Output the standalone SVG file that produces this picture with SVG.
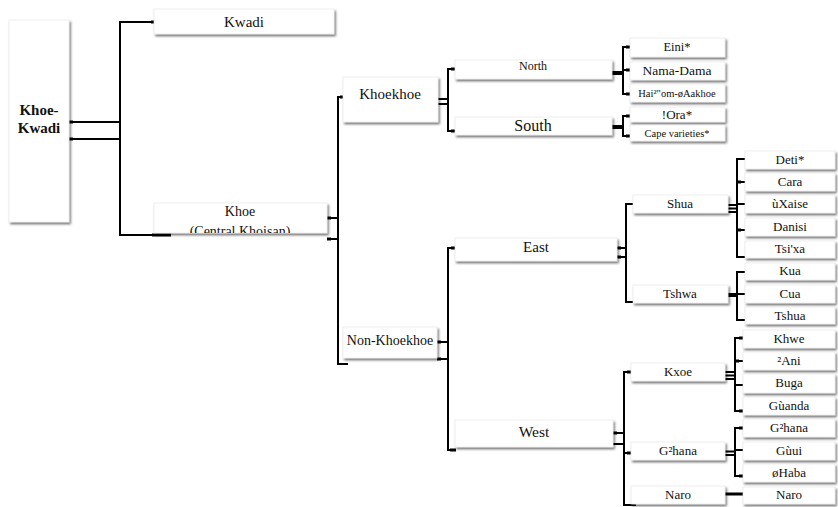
<svg xmlns="http://www.w3.org/2000/svg" width="838" height="507" viewBox="0 0 838 507">
<defs>
<filter id="sh" x="-10%" y="-20%" width="130%" height="160%">
<feDropShadow dx="1.5" dy="2" stdDeviation="1" flood-color="#000" flood-opacity="0.55"/>
</filter>
<clipPath id="khoeClip"><rect x="154" y="203" width="173" height="30"/></clipPath>
<style>
.box{fill:#fff;stroke:#e4e4e4;stroke-width:0.6;filter:url(#sh)}
.t{font-family:"Liberation Serif","DejaVu Serif",serif;fill:#111;text-anchor:middle}
.c line,.c polyline{stroke:#000;stroke-width:2;fill:none}
.c rect{fill:#000}
</style>
</defs>
<rect width="838" height="507" fill="#fff"/>

<g id="connectors" class="c">
<!-- Khoe-Kwadi -->
<line x1="69" y1="122" x2="120" y2="122"/>
<line x1="69" y1="139" x2="120" y2="139"/>
<rect x="69" y="120.5" width="4" height="3"/>
<rect x="69" y="137.5" width="4" height="3"/>
<polyline points="155,22 120,22 120,235 171,235"/>
<rect x="151" y="20.5" width="4" height="3"/>
<rect x="152" y="233.5" width="19" height="3"/>
<!-- Khoe -->
<line x1="327" y1="218" x2="338" y2="218"/>
<line x1="327" y1="239" x2="338" y2="239"/>
<rect x="327" y="216.5" width="4" height="3"/>
<rect x="327" y="237.5" width="4" height="3"/>
<polyline points="344,97 338,97 338,364 348,364"/>
<rect x="340" y="95.5" width="4" height="3"/>
<!-- Khoekhoe -->
<line x1="438" y1="99" x2="448" y2="99"/>
<line x1="438" y1="104" x2="448" y2="104"/>
<polyline points="455,69 448,69 448,131 455,131"/>
<rect x="451" y="67.5" width="4" height="3"/>
<rect x="451" y="129.5" width="4" height="3"/>
<!-- North -->
<rect x="612" y="71" width="11" height="4"/>
<polyline points="630,47 623,47 623,94 630,94"/>
<line x1="623" y1="70" x2="630" y2="70"/>
<rect x="626" y="45.5" width="4" height="3"/>
<rect x="626" y="68.5" width="4" height="3"/>
<rect x="626" y="92.5" width="4" height="3"/>
<!-- South -->
<rect x="612" y="125" width="11" height="4"/>
<polyline points="630,116 623,116 623,136 630,136"/>
<rect x="626" y="114.5" width="4" height="3"/>
<rect x="626" y="134.5" width="4" height="3"/>
<!-- Non-Khoekhoe -->
<line x1="437" y1="342" x2="448" y2="342"/>
<line x1="437" y1="359" x2="448" y2="359"/>
<rect x="437" y="340.5" width="4" height="3"/>
<rect x="437" y="357.5" width="4" height="3"/>
<polyline points="455,248 448,248 448,450 456,450"/>
<rect x="451" y="246.5" width="4" height="3"/>
<rect x="450" y="448.5" width="6" height="3"/>
<!-- East -->
<line x1="617" y1="248" x2="626" y2="248"/>
<line x1="617" y1="257" x2="626" y2="257"/>
<rect x="617" y="246.5" width="4" height="3"/>
<rect x="617" y="255.5" width="4" height="3"/>
<polyline points="633,204 626,204 626,302 633,302"/>
<!-- Shua -->
<line x1="728" y1="205" x2="737" y2="205"/>
<line x1="728" y1="208.5" x2="737" y2="208.5"/>
<line x1="728" y1="212" x2="737" y2="212"/>
<polyline points="745,159 737,159 737,257 745,257"/>
<line x1="737" y1="182" x2="745" y2="182"/>
<line x1="737" y1="204" x2="745" y2="204"/>
<line x1="737" y1="230" x2="745" y2="230"/>
<rect x="737" y="180.5" width="4" height="3"/>
<rect x="737" y="228.5" width="4" height="3"/>
<!-- Tshwa -->
<rect x="728" y="293" width="9" height="4"/>
<polyline points="745,272 737,272 737,320 745,320"/>
<line x1="737" y1="294" x2="745" y2="294"/>
<!-- West -->
<line x1="613" y1="433" x2="624" y2="433"/>
<line x1="613" y1="444" x2="624" y2="444"/>
<rect x="613" y="431.5" width="4" height="3"/>
<polyline points="631,372 624,372 624,505 636,505"/>
<line x1="624" y1="453" x2="631" y2="453"/>
<rect x="627" y="370.5" width="4" height="3"/>
<rect x="627" y="451.5" width="4" height="3"/>
<!-- Kxoe -->
<line x1="725" y1="372" x2="735" y2="372"/>
<line x1="725" y1="375.5" x2="735" y2="375.5"/>
<line x1="725" y1="379" x2="735" y2="379"/>
<polyline points="743,338 735,338 735,411 743,411"/>
<line x1="735" y1="361" x2="743" y2="361"/>
<line x1="735" y1="385" x2="743" y2="385"/>
<rect x="739" y="336.5" width="4" height="3"/>
<rect x="735" y="359.5" width="4" height="3"/>
<rect x="739" y="409.5" width="4" height="3"/>
<!-- G2hana -->
<line x1="725" y1="451.5" x2="735" y2="451.5"/>
<line x1="725" y1="455" x2="735" y2="455"/>
<polyline points="743,428 735,428 735,476 743,476"/>
<line x1="735" y1="450" x2="743" y2="450"/>
<rect x="739" y="426.5" width="4" height="3"/>
<rect x="739" y="474.5" width="4" height="3"/>
<!-- Naro -->
<rect x="725" y="492.5" width="18" height="3"/>
</g>

<g id="n-khoe-kwadi"><rect class="box" x="9" y="20" width="60" height="202"/><text class="t" x="39" y="115" font-size="15" font-weight="bold">Khoe-</text><text class="t" x="39" y="133" font-size="15" font-weight="bold">Kwadi</text></g>
<g id="n-kwadi"><rect class="box" x="154" y="9" width="180" height="25"/><text class="t" x="244" y="27" font-size="15">Kwadi</text></g>
<g id="n-khoe"><rect class="box" x="154" y="203" width="173" height="30"/><g clip-path="url(#khoeClip)"><text class="t" x="240" y="216" font-size="14">Khoe</text><text class="t" x="240" y="236" font-size="14">(Central Khoisan)</text></g></g>
<g id="n-khoekhoe"><rect class="box" x="343" y="77" width="95" height="45"/><text class="t" x="390" y="99" font-size="15">Khoekhoe</text></g>
<g id="n-north"><rect class="box" x="455" y="60" width="157" height="19"/><text class="t" x="533" y="70" font-size="12">North</text></g>
<g id="n-south"><rect class="box" x="455" y="117" width="157" height="18"/><text class="t" x="533" y="131" font-size="16">South</text></g>
<g id="n-eini"><rect class="box" x="630" y="38" width="95" height="19"/><text class="t" x="677" y="51" font-size="12.5">Eini*</text></g>
<g id="n-nama"><rect class="box" x="630" y="62" width="95" height="18"/><text class="t" x="677" y="75" font-size="13.5">Nama-Dama</text></g>
<g id="n-haiom"><rect class="box" x="630" y="84" width="95" height="18"/><text class="t" x="677" y="97" font-size="10.5">Hai²"om-øAakhoe</text></g>
<g id="n-ora"><rect class="box" x="630" y="107" width="95" height="15"/><text class="t" x="677" y="119" font-size="13">!Ora*</text></g>
<g id="n-cape"><rect class="box" x="630" y="125" width="95" height="16"/><text class="t" x="677" y="137" font-size="10.5">Cape varieties*</text></g>
<g id="n-nonkhoekhoe"><rect class="box" x="343" y="327" width="94" height="31"/><text class="t" x="390" y="345" font-size="14">Non-Khoekhoe</text></g>
<g id="n-east"><rect class="box" x="455" y="238" width="162" height="23"/><text class="t" x="536" y="252" font-size="15">East</text></g>
<g id="n-west"><rect class="box" x="455" y="420" width="158" height="27"/><text class="t" x="534" y="437" font-size="15.5">West</text></g>
<g id="n-shua"><rect class="box" x="633" y="195" width="95" height="18"/><text class="t" x="680" y="208" font-size="13">Shua</text></g>
<g id="n-tshwa"><rect class="box" x="633" y="285" width="95" height="18"/><text class="t" x="680" y="298" font-size="13">Tshwa</text></g>
<g id="n-kxoe"><rect class="box" x="631" y="363" width="94" height="18"/><text class="t" x="678" y="376" font-size="13">Kxoe</text></g>
<g id="n-g2hana-grp"><rect class="box" x="631" y="442" width="94" height="18"/><text class="t" x="678" y="455" font-size="13">G²hana</text></g>
<g id="n-naro-grp"><rect class="box" x="631" y="486" width="94" height="18"/><text class="t" x="678" y="499" font-size="13">Naro</text></g>

<g id="n-deti"><rect class="box" x="745" y="151" width="90" height="18"/><text class="t" x="790" y="164" font-size="13">Deti*</text></g>
<g id="n-cara"><rect class="box" x="745" y="173" width="90" height="18"/><text class="t" x="790" y="186" font-size="13">Cara</text></g>
<g id="n-uxaise"><rect class="box" x="745" y="195" width="90" height="18"/><text class="t" x="790" y="208" font-size="13">ùXaise</text></g>
<g id="n-danisi"><rect class="box" x="745" y="218" width="90" height="18"/><text class="t" x="790" y="231" font-size="13">Danisi</text></g>
<g id="n-tsixa"><rect class="box" x="745" y="241" width="90" height="17"/><text class="t" x="790" y="253" font-size="13">Tsi'xa</text></g>
<g id="n-kua"><rect class="box" x="745" y="263" width="90" height="17"/><text class="t" x="790" y="275" font-size="13">Kua</text></g>
<g id="n-cua"><rect class="box" x="745" y="285" width="90" height="18"/><text class="t" x="790" y="298" font-size="13">Cua</text></g>
<g id="n-tshua"><rect class="box" x="745" y="307" width="90" height="17"/><text class="t" x="790" y="320" font-size="13">Tshua</text></g>
<g id="n-khwe"><rect class="box" x="743" y="330" width="92" height="18"/><text class="t" x="789" y="343" font-size="13">Khwe</text></g>
<g id="n-ani"><rect class="box" x="743" y="352" width="92" height="18"/><text class="t" x="789" y="365" font-size="13">²Ani</text></g>
<g id="n-buga"><rect class="box" x="743" y="374" width="92" height="19"/><text class="t" x="789" y="387" font-size="13">Buga</text></g>
<g id="n-guanda"><rect class="box" x="743" y="397" width="92" height="18"/><text class="t" x="789" y="410" font-size="13">Gùanda</text></g>
<g id="n-g2hana"><rect class="box" x="743" y="419" width="92" height="18"/><text class="t" x="789" y="432" font-size="13">G²hana</text></g>
<g id="n-guui"><rect class="box" x="743" y="442" width="92" height="18"/><text class="t" x="789" y="455" font-size="13">Gùui</text></g>
<g id="n-ohaba"><rect class="box" x="743" y="464" width="92" height="18"/><text class="t" x="789" y="477" font-size="13">øHaba</text></g>
<g id="n-naro"><rect class="box" x="743" y="487" width="92" height="17"/><text class="t" x="789" y="499" font-size="13">Naro</text></g>
</svg>
